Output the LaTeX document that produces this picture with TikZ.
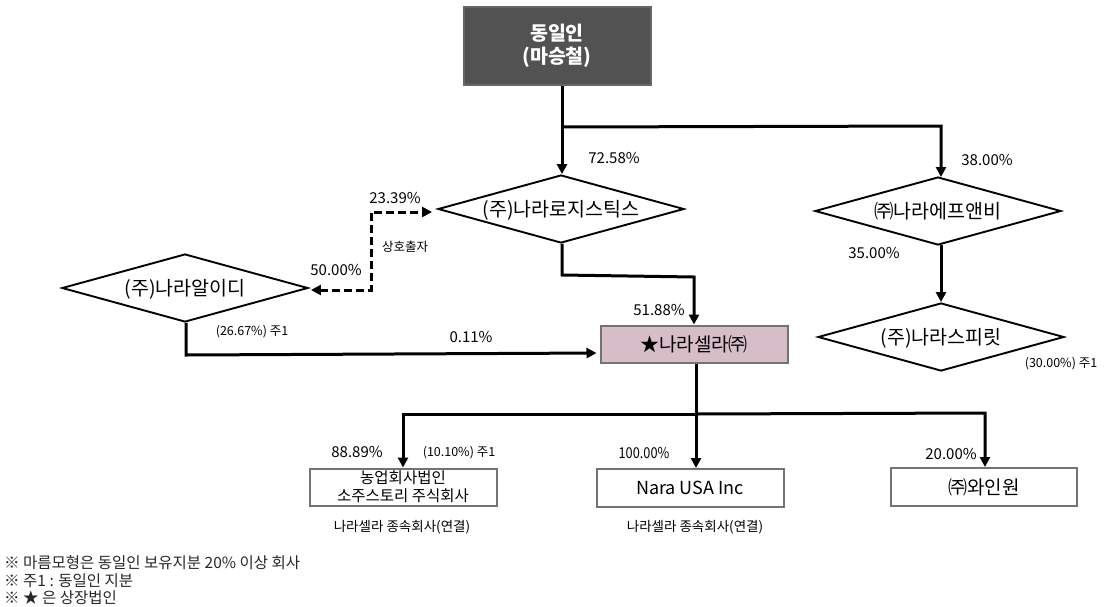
\documentclass[tikz,border=0pt]{standalone}
\usepackage{fontspec}
\setmainfont{Noto Sans CJK KR}
\usetikzlibrary{shapes.geometric,arrows.meta}
\definecolor{cellapink}{HTML}{D6BDC7}
\tikzset{
  x=1pt,y=-1pt,
  tipb/.tip={Triangle[length=10pt,width=10pt]},
  link/.style={draw=black,line width=3pt},
  conn/.style={link,-tipb},
  corp/.style={diamond,draw=black,line width=1.9pt,aspect=3.6,inner sep=0pt,minimum width=246,minimum height=68,text height=18pt,text depth=4pt,font=\fontsize{19.5}{20}\selectfont},
  boxw/.style={rectangle,draw=black!55,line width=2pt,fill=white,inner sep=0pt,minimum width=187,minimum height=37,font=\fontsize{18}{20}\selectfont},
  pct/.style={font=\fontsize{15}{17}\selectfont,inner sep=0pt},
  small/.style={font=\fontsize{12.5}{14}\selectfont,inner sep=0pt},
  note/.style={font=\fontsize{13.5}{15}\selectfont,inner sep=0pt},
  foot/.style={anchor=west,inner sep=0pt,font=\fontsize{15.5}{17}\selectfont,text=black!85},
}
\begin{document}
\begin{tikzpicture}
\useasboundingbox (0,0) rectangle (1106,606);
% owner
\node[draw=black!60,line width=2pt,fill=black!68,text=white,minimum width=187,minimum height=78,font=\bfseries\fontsize{19.5}{23}\selectfont,align=center,inner sep=0pt] (owner) at (557,46) {동일인\\(마승철)};
% companies
\node[corp] (logis) at (561,209) {(주)나라로지스틱스};
\node[corp] (fnb) at (938,211) {㈜나라에프앤비};
\node[corp] (rnd) at (185,288) {(주)나라알이디};
\node[corp] (spirit) at (941,337) {(주)나라스피릿};
\node[boxw,fill=cellapink,font=\fontsize{19}{20}\selectfont] (cella) at (694,344) {★나라셀라㈜};
\node[boxw,font=\fontsize{15.5}{18}\selectfont,align=center] (farm) at (403,487) {농업회사법인\\소주스토리 주식회사};
\node[boxw,minimum height=38] (usa) at (690,488) {Nara USA Inc};
\node[boxw,minimum width=186,minimum height=38,font=\fontsize{19}{22}\selectfont] (wine) at (984,487) {㈜와인원};
% bends
\coordinate (split) at (562,127);
\coordinate (bus) at (696,414);
% connectors
\draw[conn] (owner.south -| split) -- (split) -- (logis.north -| split);
\draw[conn] (split) -- (941,126) -- (941,177);
\draw[conn] (941,245) -- (spirit.north -| 941,0);
\draw[conn] (logis.south -| split) -- (562,275) -- (694,277) -- (cella.north);
\draw[conn,shorten >=3pt] (rnd.south -| 186,0) -- (186,355) -- (cella.west |- 186,353);
\draw[conn,tipb-tipb,dashed,dash pattern=on 8pt off 4pt,shorten <=2pt,shorten >=5pt] (rnd.east |- 371,290) -- (371,290) -- (371,212) -- (logis.west |- 371,212);
\draw[conn] (cella.south -| bus) -- (bus) -- (usa.north -| bus);
\draw[conn] (bus) -- (403,414) -- (farm.north);
\draw[conn] (bus) -- (985,413) -- (wine.north -| 985,0);
% labels
\node[pct] (l1) at (614,158) {72.58\%};
\node[pct] (l2) at (987,160) {38.00\%};
\node[pct] (l3) at (395,198) {23.39\%};
\node[pct] (l4) at (336,270) {50.00\%};
\node[pct] (l5) at (874,253) {35.00\%};
\node[pct] (l6) at (659,310) {51.88\%};
\node[pct] (l7) at (471,337) {0.11\%};
\node[pct] (l8) at (357,452) {88.89\%};
\node[pct] (l9) at (644,453) {\scalebox{.85}[1]{100.00\%}};
\node[pct] (l10) at (951,454) {20.00\%};
\node[small] (n1) at (405,247) {상호출자};
\node[small] (n2) at (252,332) {(26.67\%) 주1};
\node[small] (n3) at (1061,364) {(30.00\%) 주1};
\node[small] (n4) at (459,453) {(10.10\%) 주1};
\node[note] (n5) at (402,527) {나라셀라 종속회사(연결)};
\node[note] (n6) at (695,527) {나라셀라 종속회사(연결)};
\node[foot] (f1) at (4,563) {※ 마름모형은 동일인 보유지분 20\% 이상 회사};
\node[foot] (f2) at (4,581) {※ 주1 : 동일인 지분};
\node[foot] (f3) at (4,598) {※ ★ 은 상장법인};
\end{tikzpicture}
\end{document}
